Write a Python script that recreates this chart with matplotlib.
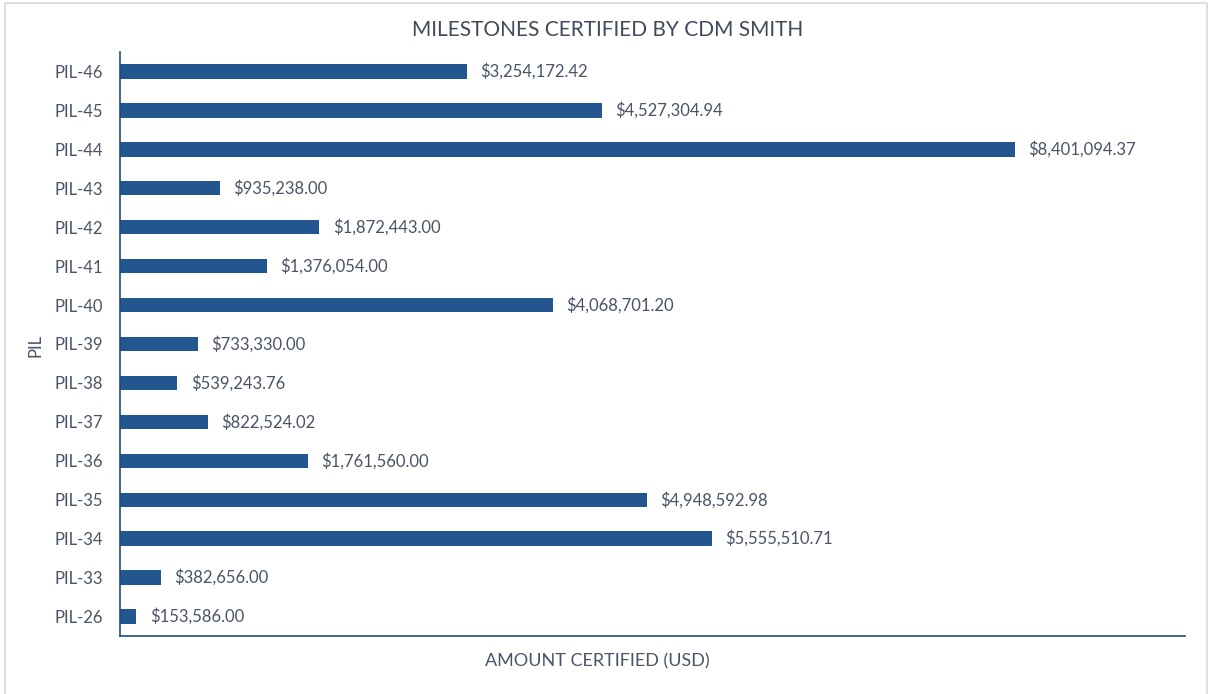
import matplotlib.pyplot as plt
from matplotlib.patches import Rectangle

plt.rcParams['font.family'] = ['Lato', 'DejaVu Sans']

pils = ['PIL-26', 'PIL-33', 'PIL-34', 'PIL-35', 'PIL-36', 'PIL-37', 'PIL-38', 'PIL-39',
        'PIL-40', 'PIL-41', 'PIL-42', 'PIL-43', 'PIL-44', 'PIL-45', 'PIL-46']
amounts = [153586.00, 382656.00, 5555510.71, 4948592.98, 1761560.00, 822524.02, 539243.76,
           733330.00, 4068701.20, 1376054.00, 1872443.00, 935238.00, 8401094.37, 4527304.94,
           3254172.42]

bar_col = '#23558F'
txt_col = '#4A5466'

fig = plt.figure(figsize=(12.1, 6.94), dpi=100)
fig.patches.append(Rectangle((5 / 1210, -0.05), 1202 / 1210, 1.05 - 3 / 694,
                             transform=fig.transFigure, fill=False,
                             edgecolor='#D9D9D9', linewidth=1.2))
ax = fig.add_axes([120 / 1210, 58 / 694, 1065 / 1210, 584 / 694])

y = range(len(pils))
ax.barh(y, amounts, height=0.37, color=bar_col)
for i, v in enumerate(amounts):
    ax.text(v + 125000, i, '${:,.2f}'.format(v), va='center', ha='left',
            fontsize=12, color=txt_col)

ax.set_xlim(0, 10000000)
ax.set_ylim(-0.5, len(pils) - 0.5)
ax.set_yticks(list(y))
ax.set_yticklabels(pils, fontsize=12, color=txt_col)
ax.set_xticks([])
ax.tick_params(axis='y', length=0, pad=12)
for s in ['top', 'right']:
    ax.spines[s].set_visible(False)
for s in ['left', 'bottom']:
    ax.spines[s].set_color('#1F4E79')
    ax.spines[s].set_linewidth(1.2)

fig.text(608 / 1210, 1 - 30 / 694, 'MILESTONES CERTIFIED BY CDM SMITH', ha='center', va='center',
         fontsize=15, color='#404A5A')
fig.text(597 / 1210, 1 - 661 / 694, 'AMOUNT CERTIFIED (USD)', ha='center', va='center',
         fontsize=13, color=txt_col)
fig.text(36 / 1210, 1 - 345 / 694, 'PIL', ha='center', va='center', rotation=90,
         fontsize=12, color=txt_col)

fig.savefig('out.png', dpi=100)
